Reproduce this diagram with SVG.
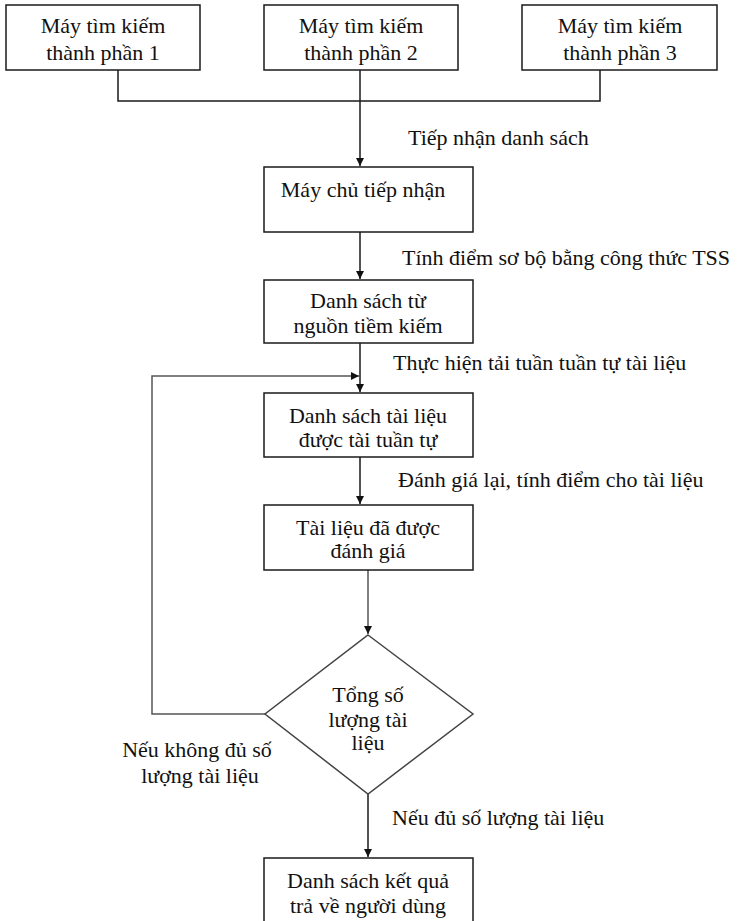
<svg xmlns="http://www.w3.org/2000/svg" width="739" height="921" viewBox="0 0 739 921">
<style>
.box{fill:#fff;stroke:#1a1a1a;stroke-width:1.5}
.dia{fill:#fff;stroke:#444;stroke-width:1.5}
text{font-family:'Liberation Serif','Times New Roman','DejaVu Serif',serif;font-size:22px;fill:#111}
.m{text-anchor:middle}
.ln{fill:none;stroke:#1a1a1a;stroke-width:1.5}
.lg{fill:none;stroke:#555;stroke-width:1.5}
</style>
<defs>
<marker id="ah" viewBox="0 0 10 10" refX="10" refY="5" markerWidth="8" markerHeight="9" markerUnits="userSpaceOnUse" orient="auto">
<path d="M0,0 L10,5 L0,10 z" fill="#111"/>
</marker>
</defs>
<rect width="739" height="921" fill="#fff"/>
<g id="connectors" font-family="Liberation Serif, serif">
<path class="ln" d="M118,70 V101 H600 V70"/>
<path class="ln" d="M360,70 V166" marker-end="url(#ah)"/>
<path class="ln" d="M360,232 V279" marker-end="url(#ah)"/>
<path class="ln" d="M360,343 V392" marker-end="url(#ah)"/>
<path class="lg" d="M265,714 H152 V376 H359" marker-end="url(#ah)"/>
<path class="ln" d="M360,457 V504" marker-end="url(#ah)"/>
<path class="lg" d="M368,570 V634" marker-end="url(#ah)"/>
<path class="ln" d="M368,794 V857" marker-end="url(#ah)"/>
<text x="408" y="145">Tiếp nhận danh sách</text>
<text x="402" y="265">Tính điểm sơ bộ bằng công thức TSS</text>
<text x="393" y="370">Thực hiện tải tuần tuần tự tài liệu</text>
<text x="398" y="487">Đánh giá lại, tính điểm cho tài liệu</text>
<text class="m" x="197" y="757">Nếu không đủ số</text>
<text class="m" x="200" y="783">lượng tài liệu</text>
<text x="392" y="825">Nếu đủ số lượng tài liệu</text>
</g>
<g id="n1">
<rect class="box" x="6" y="5" width="194" height="65"/>
<text class="m" x="103" y="33">Máy tìm kiếm</text>
<text class="m" x="103" y="60">thành phần 1</text>
</g>
<g id="n2">
<rect class="box" x="264" y="5" width="194" height="65"/>
<text class="m" x="361" y="33">Máy tìm kiếm</text>
<text class="m" x="361" y="60">thành phần 2</text>
</g>
<g id="n3">
<rect class="box" x="522" y="5" width="195" height="65"/>
<text class="m" x="620" y="33">Máy tìm kiếm</text>
<text class="m" x="620" y="60">thành phần 3</text>
</g>
<g id="n4">
<rect class="box" x="264" y="167" width="209" height="65"/>
<text class="m" x="363" y="197">Máy chủ tiếp nhận</text>
</g>
<g id="n5">
<rect class="box" x="264" y="280" width="209" height="63"/>
<text class="m" x="368" y="308">Danh sách từ</text>
<text class="m" x="368" y="333">nguồn tiềm kiếm</text>
</g>
<g id="n6">
<rect class="box" x="264" y="393" width="209" height="64"/>
<text class="m" x="368" y="423">Danh sách tài liệu</text>
<text class="m" x="368" y="447">được tài tuần tự</text>
</g>
<g id="n7">
<rect class="box" x="264" y="505" width="209" height="65"/>
<text class="m" x="368" y="535">Tài liệu đã được</text>
<text class="m" x="368" y="558">đánh giá</text>
</g>
<g id="n8">
<polygon class="dia" points="368,635 473,714 368,794 265,714"/>
<text class="m" x="368" y="702">Tổng số</text>
<text class="m" x="368" y="727">lượng tài</text>
<text class="m" x="368" y="750">liệu</text>
</g>
<g id="n9">
<rect class="box" x="264" y="858" width="209" height="70"/>
<text class="m" x="368" y="888">Danh sách kết quả</text>
<text class="m" x="368" y="913">trả về người dùng</text>
</g>
</svg>
